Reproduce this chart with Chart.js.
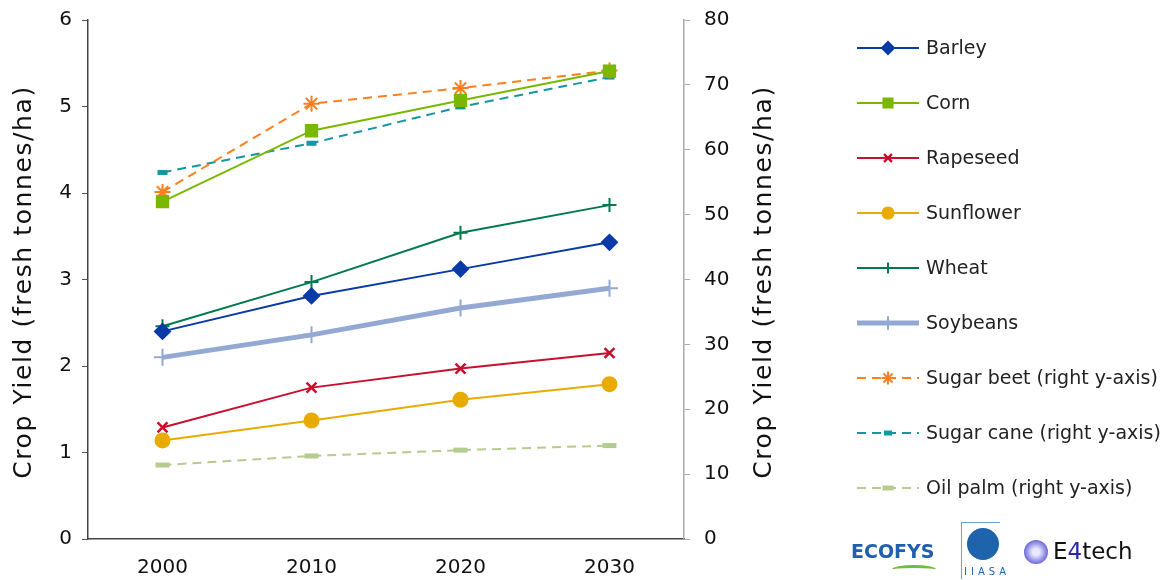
<!DOCTYPE html>
<html lang="en">
<head>
    <meta charset="UTF-8">
    <style>
        body { margin: 0; background: #ffffff; font-family: 'DejaVu Sans', sans-serif; }
        .wrap { position: relative; width: 1171px; height: 580px; }
        .logo { position: absolute; }
        .ecofys { left: 851px; top: 540px; color: #1f5fae; font-weight: bold; font-size: 19px; }
        .ecofys-swoosh { left: 892px; top: 565px; width: 44px; height: 6px; border-top: 3px solid #6fbf3a; border-radius: 50% 50% 0 0; }
        .iiasa { left: 961px; top: 522px; width: 38px; height: 56px; border-left: 1px solid #6ea2d6; border-top: 1px solid #6ea2d6; }
        .iiasa-globe { left: 967px; top: 528px; width: 32px; height: 32px; border-radius: 50%; background: #1f63ad; }
        .iiasa-text { left: 964px; top: 566px; font-size: 10px; color: #1f63ad; letter-spacing: 4px; }
        .e4-ball { left: 1024px; top: 540px; width: 24px; height: 24px; border-radius: 50%; background: radial-gradient(circle, #e9e9ff 20%, #6d6ad8 70%, #3b36a8 100%); }
        .e4 { left: 1053px; top: 538px; font-size: 23px; color: #111; }
        .e4 b { color: #2c27a6; font-weight: normal; }
    </style>
    <script src="https://cdn.jsdelivr.net/npm/chart.js"></script>
    <title>Crop Yield</title>
</head>
<body>
<div class="wrap">
    <canvas id="grafico" width="1171" height="580"></canvas>
    <div class="logo ecofys">ECOFYS</div>
    <div class="logo ecofys-swoosh"></div>
    <div class="logo iiasa"></div>
    <div class="logo iiasa-globe"></div>
    <div class="logo iiasa-text">IIASA</div>
    <div class="logo e4-ball"></div>
    <div class="logo e4">E<b>4</b>tech</div>
</div>
<script>
    const anos = ["2000", "2010", "2020", "2030"];

    // left axis (tonnes/ha)
    const barley = [2.40, 2.81, 3.12, 3.43];
    const corn = [3.90, 4.72, 5.07, 5.41];
    const rapeseed = [1.29, 1.75, 1.97, 2.15];
    const sunflower = [1.14, 1.37, 1.61, 1.79];
    const wheat = [2.46, 2.97, 3.54, 3.86];
    const soybeans = [2.10, 2.36, 2.67, 2.90];

    // right axis
    const sugarBeet = [53.5, 67.1, 69.5, 72.2];
    const sugarCane = [56.5, 61.0, 66.6, 71.2];
    const oilPalm = [11.4, 12.8, 13.7, 14.4];

    const leftTicks = [0, 1, 2, 3, 4, 5, 6];
    const rightTicks = [0, 10, 20, 30, 40, 50, 60, 70, 80];

    const tituloEixo = "Crop Yield (fresh tonnes/ha)";

    function serie(label, data, cor, estilo, raio, extra) {
        return Object.assign({
            label: label,
            data: data,
            borderColor: cor,
            backgroundColor: cor,
            pointBackgroundColor: cor,
            pointBorderColor: cor,
            borderWidth: 2,
            pointStyle: estilo,
            pointRadius: raio,
            pointBorderWidth: 2,
            yAxisID: "y",
            tension: 0
        }, extra || {});
    }

    const datasets = [
        serie("Barley", barley, "#0a3aa6", "rectRot", 7.5),
        serie("Corn", corn, "#7ab800", "rect", 8),
        serie("Rapeseed", rapeseed, "#c8102e", "crossRot", 7, { pointBorderWidth: 2.5 }),
        serie("Sunflower", sunflower, "#eaab00", "circle", 7),
        serie("Wheat", wheat, "#007a4d", "cross", 7),
        serie("Soybeans", soybeans, "#93a9d3", "cross", 8.5, { borderWidth: 5 }),
        serie("Sugar beet (right y-axis)", sugarBeet, "#ff7f1e", "star", 8, { borderDash: [9, 6], yAxisID: "y2" }),
        serie("Sugar cane (right y-axis)", sugarCane, "#1596a0", "line", 5, { borderDash: [9, 6], pointBorderWidth: 5, yAxisID: "y2" }),
        serie("Oil palm (right y-axis)", oilPalm, "#b5cc8e", "line", 7, { borderDash: [9, 6], pointBorderWidth: 5, yAxisID: "y2" })
    ];

    // legenda à direita + títulos dos eixos (os dois lidos de baixo para cima)
    const legendaPlugin = {
        id: "legendaLateral",
        afterDraw(chart) {
            const ctx = chart.ctx;
            chart.data.datasets.forEach((ds, i) => {
                const y = 48 + 55 * i;
                ctx.save();
                ctx.strokeStyle = ds.borderColor;
                ctx.lineWidth = ds.borderWidth;
                ctx.setLineDash(ds.borderDash || []);
                ctx.beginPath();
                ctx.moveTo(857, y);
                ctx.lineTo(919, y);
                ctx.stroke();
                ctx.setLineDash([]);
                ctx.fillStyle = ds.pointBackgroundColor;
                ctx.strokeStyle = ds.pointBorderColor;
                ctx.lineWidth = ds.pointBorderWidth;
                Chart.helpers.drawPoint(ctx, {
                    pointStyle: ds.pointStyle,
                    radius: ds.pointRadius * 0.8,
                    borderWidth: ds.pointBorderWidth,
                    rotation: 0
                }, 888, y);
                ctx.fillStyle = "#222";
                ctx.font = "19px 'DejaVu Sans'";
                ctx.textBaseline = "middle";
                ctx.fillText(ds.label, 926, y + 1);
                ctx.restore();
            });

            const meio = 282;
            [24, 764].forEach(x => {
                ctx.save();
                ctx.translate(x, meio);
                ctx.rotate(-Math.PI / 2);
                ctx.font = "25px 'DejaVu Sans'";
                ctx.letterSpacing = "1.6px";
                ctx.fillStyle = "#111";
                ctx.textAlign = "center";
                ctx.textBaseline = "middle";
                ctx.fillText(tituloEixo, 0, 0);
                ctx.restore();
            });
        }
    };

    const fonteTicks = { family: "'DejaVu Sans'", size: 20 };

    function semMargem(scale) {
        scale.paddingTop = 0;
        scale.paddingBottom = 0;
    }

    new Chart(document.getElementById("grafico"), {
        type: "line",
        data: { labels: anos, datasets: datasets },
        plugins: [legendaPlugin],
        options: {
            responsive: false,
            animation: false,
            layout: { padding: { top: 20, right: 393, bottom: 0, left: 0 } },
            plugins: { legend: { display: false }, tooltip: { enabled: false } },
            scales: {
                x: {
                    offset: true,
                    grid: { display: true, drawOnChartArea: false, drawTicks: false },
                    border: { color: "#444", width: 1.5 },
                    ticks: { font: fonteTicks, color: "#111", padding: 17 },
                    afterFit(scale) { scale.height = 41; }
                },
                y: {
                    position: "left",
                    min: 0, max: 6,
                    afterBuildTicks(scale) { scale.ticks = leftTicks.map(v => ({ value: v })); },
                    grid: { drawOnChartArea: false, tickLength: 6, color: "#555" },
                    border: { color: "#444", width: 1.5 },
                    ticks: { font: fonteTicks, color: "#111", padding: 10 },
                    afterFit(scale) { scale.width = 88; semMargem(scale); }
                },
                y2: {
                    position: "right",
                    min: 0, max: 80,
                    afterBuildTicks(scale) { scale.ticks = rightTicks.map(v => ({ value: v })); },
                    grid: { drawOnChartArea: false, tickLength: 6, color: "#aaa" },
                    border: { color: "#aaa", width: 1.5 },
                    ticks: { font: fonteTicks, color: "#111", padding: 14 },
                    afterFit(scale) { scale.width = 94; semMargem(scale); }
                }
            }
        }
    });
</script>
</body>
</html>
